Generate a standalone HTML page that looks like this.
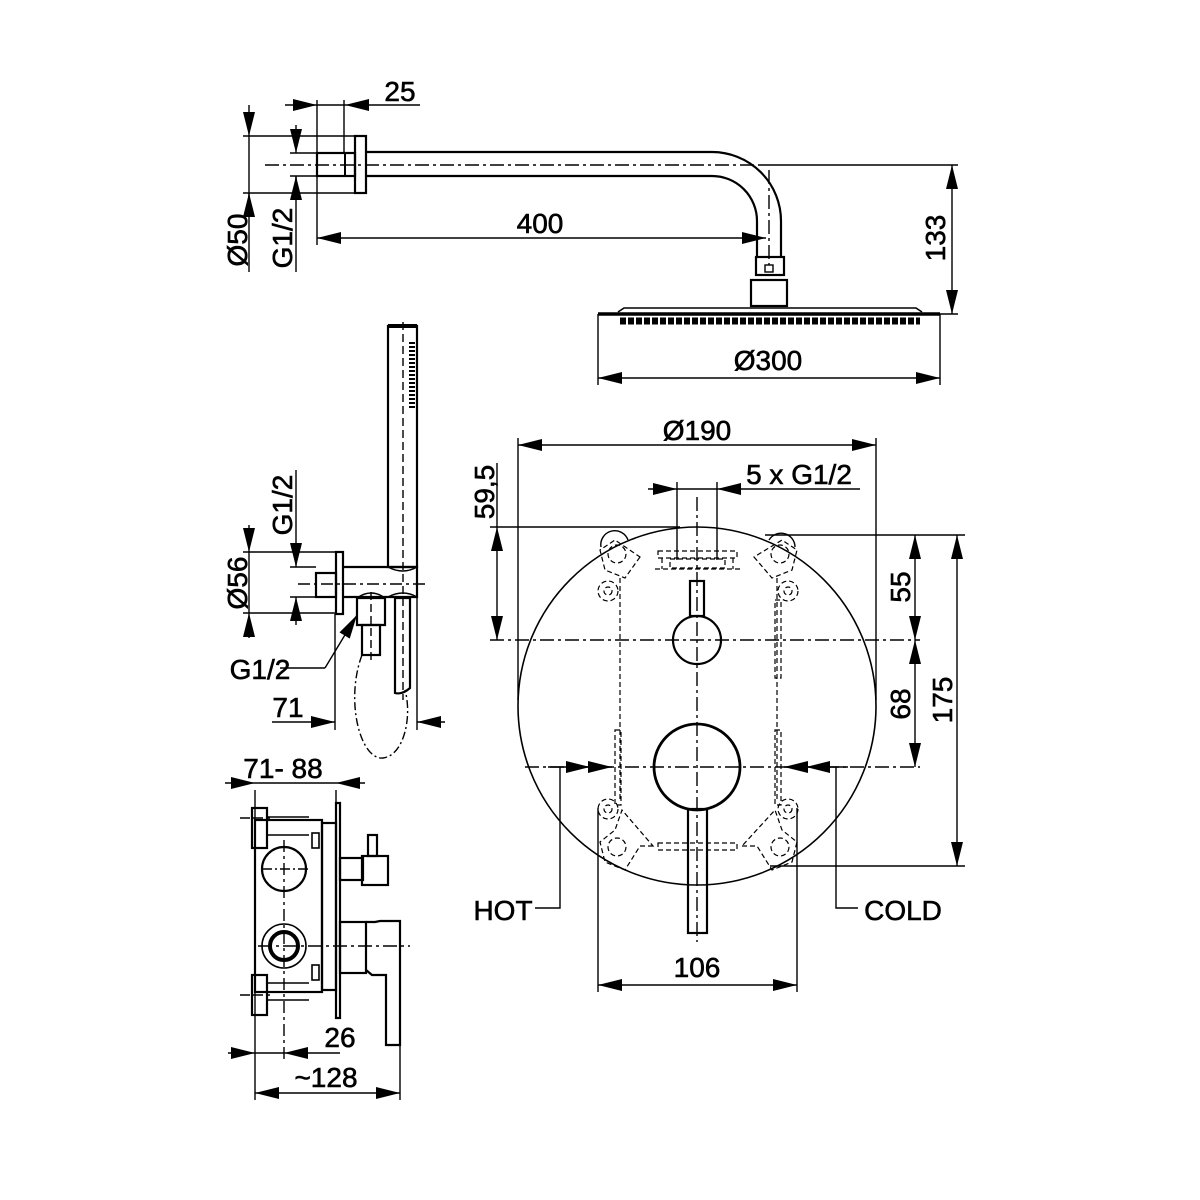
<!DOCTYPE html>
<html><head><meta charset="utf-8"><style>
html,body{margin:0;padding:0;background:#fff}
svg{display:block}
text{font-family:"Liberation Sans",Arial,sans-serif;font-size:28px;fill:#000;stroke:#000;stroke-width:0.6}
</style></head><body>
<svg width="1200" height="1200" viewBox="0 0 1200 1200" xmlns="http://www.w3.org/2000/svg">
<defs>
<marker id="a" viewBox="0 0 24 12" refX="24" refY="6" markerWidth="24" markerHeight="12" markerUnits="userSpaceOnUse" orient="auto-start-reverse"><path d="M0,0L24,6L0,12z" fill="#000"/></marker>
</defs>
<g fill="none" stroke="#000" stroke-width="1.4">
<!-- ===== Top shower arm ===== -->
<line x1="265" y1="165" x2="760" y2="165" stroke-dasharray="14,4,3,4"/>
<path d="M769 170 V265" stroke-dasharray="14,4,3,4"/>
<rect x="355" y="136" width="11" height="57" stroke-width="2.2"/>
<rect x="317" y="153" width="38" height="23" stroke-width="2.2"/>
<line x1="345" y1="153" x2="345" y2="176" stroke-width="2"/>
<path d="M366 152 H712 A69 69 0 0 1 781 221 V257" stroke-width="2.2"/>
<path d="M366 176 H712 A45 45 0 0 1 757 221 V257" stroke-width="2.2"/>
<rect x="756" y="257" width="28" height="18" stroke-width="2.2"/>
<rect x="765" y="265" width="8" height="7"/>
<rect x="751" y="280" width="36" height="26" stroke-width="2.2"/>
<path d="M598 314 H940" stroke-width="3.5"/>
<path d="M618 312 L624 308 H916 L922 312" stroke-width="1.6"/>
<line x1="620" y1="321" x2="920" y2="321" stroke-width="7" stroke-dasharray="6,2"/>
<!-- dims top -->
<line x1="285" y1="105" x2="317" y2="105" marker-end="url(#a)"/>
<line x1="317" y1="105" x2="345" y2="105"/>
<line x1="420" y1="105" x2="345" y2="105" marker-end="url(#a)"/>
<line x1="317" y1="100" x2="317" y2="245"/>
<line x1="344" y1="100" x2="344" y2="153"/>
<line x1="243" y1="136" x2="355" y2="136"/>
<line x1="243" y1="193" x2="355" y2="193"/>
<line x1="249" y1="105" x2="249" y2="136" marker-end="url(#a)"/>
<line x1="249" y1="215" x2="249" y2="193" marker-end="url(#a)"/>
<line x1="249" y1="136" x2="249" y2="272"/>
<line x1="290" y1="153" x2="317" y2="153"/>
<line x1="290" y1="176" x2="317" y2="176"/>
<line x1="296" y1="125" x2="296" y2="153" marker-end="url(#a)"/>
<line x1="296" y1="200" x2="296" y2="176" marker-end="url(#a)"/>
<line x1="296" y1="176" x2="296" y2="272"/>
<line x1="317" y1="238" x2="766" y2="238" marker-start="url(#a)" marker-end="url(#a)"/>
<line x1="760" y1="165" x2="958" y2="165"/>
<line x1="930" y1="314" x2="958" y2="314"/>
<line x1="952" y1="165" x2="952" y2="314" marker-start="url(#a)" marker-end="url(#a)"/>
<line x1="598" y1="314" x2="598" y2="385"/>
<line x1="940" y1="314" x2="940" y2="385"/>
<line x1="598" y1="378" x2="940" y2="378" marker-start="url(#a)" marker-end="url(#a)"/>

<!-- ===== Hand shower ===== -->
<rect x="388" y="326" width="29" height="241" stroke-width="2.2"/>
<line x1="388" y1="326" x2="417" y2="326" stroke-width="4"/>
<line x1="403" y1="322" x2="403" y2="700" stroke-dasharray="8,4"/>
<line x1="412" y1="342" x2="412" y2="408" stroke-width="6" stroke-dasharray="2,2"/>
<rect x="336" y="552" width="7" height="62" stroke-width="2.2"/>
<rect x="316" y="573" width="20" height="24" stroke-width="2.2"/>
<path d="M343 567 H417 V597 H343" stroke-width="2.2"/>
<path d="M388 567 Q403 575 417 567 M388 597 Q403 589 417 597" stroke-width="1.5"/>
<line x1="298" y1="584" x2="425" y2="584" stroke-dasharray="12,4,3,4"/>
<path d="M357 598 H385 V625 H357 Z" stroke-width="2.2"/>
<path d="M357 598 Q371 588 385 598" stroke-width="1.5"/>
<rect x="362" y="625" width="18" height="30" stroke-width="2.2"/>
<line x1="371" y1="592" x2="371" y2="660" stroke-dasharray="8,4"/>
<path d="M395 598 H410 V688 Q402 695 395 693 Z" stroke-width="2.2"/>
<path d="M362 655 C345 700 360 760 383 758 C405 755 412 715 405 690" stroke-dasharray="8,3,2,3"/>
<line x1="280" y1="668" x2="325" y2="668"/>
<line x1="325" y1="668" x2="357" y2="615" marker-end="url(#a)"/>
<line x1="243" y1="552" x2="336" y2="552"/>
<line x1="243" y1="613" x2="336" y2="613"/>
<line x1="249" y1="525" x2="249" y2="552" marker-end="url(#a)"/>
<line x1="249" y1="638" x2="249" y2="613" marker-end="url(#a)"/>
<line x1="249" y1="552" x2="249" y2="613"/>
<line x1="290" y1="567" x2="316" y2="567"/>
<line x1="290" y1="597" x2="316" y2="597"/>
<line x1="296" y1="470" x2="296" y2="567" marker-end="url(#a)"/>
<line x1="296" y1="625" x2="296" y2="597" marker-end="url(#a)"/>
<line x1="335" y1="614" x2="335" y2="730"/>
<line x1="417" y1="597" x2="417" y2="730"/>
<line x1="272" y1="722" x2="335" y2="722" marker-end="url(#a)"/>
<line x1="445" y1="722" x2="417" y2="722" marker-end="url(#a)"/>

<!-- ===== Valve side view ===== -->
<line x1="225" y1="783" x2="255" y2="783" marker-end="url(#a)"/>
<line x1="255" y1="783" x2="336" y2="783"/>
<line x1="365" y1="783" x2="336" y2="783" marker-end="url(#a)"/>
<line x1="255" y1="790" x2="255" y2="1100"/>
<line x1="336" y1="790" x2="336" y2="803"/>
<rect x="255" y="820" width="67" height="172" stroke-width="2.2"/>
<rect x="322" y="823" width="14" height="167" stroke-width="2.2"/>
<rect x="336" y="803" width="4" height="215" stroke-width="2.2"/>
<rect x="252" y="808" width="15" height="40" stroke-width="2.2"/>
<rect x="252" y="975" width="15" height="40" stroke-width="2.2"/>
<path d="M267 817 H309 M267 835 H309" stroke-width="1.6"/>
<path d="M267 983 H309 M267 1000 H309" stroke-width="1.6"/>
<rect x="312" y="833" width="7" height="15" stroke-width="1.6"/>
<rect x="312" y="965" width="7" height="15" stroke-width="1.6"/>
<line x1="240" y1="818" x2="270" y2="818" stroke-dasharray="10,3"/>
<line x1="240" y1="995" x2="270" y2="995" stroke-dasharray="10,3"/>
<circle cx="284" cy="869" r="22" stroke-width="2.2"/>
<circle cx="284" cy="946" r="22" stroke-width="1.6"/>
<circle cx="284" cy="946" r="14" stroke-width="4"/>
<line x1="284" y1="840" x2="284" y2="1060" stroke-dasharray="12,4,3,4"/>
<line x1="262" y1="869" x2="310" y2="869" stroke-dasharray="10,3,2,3"/>
<line x1="258" y1="946" x2="410" y2="946" stroke-dasharray="14,4,3,4"/>
<rect x="340" y="858" width="23" height="22" stroke-width="2.2"/>
<rect x="362" y="856" width="26" height="29" stroke-width="2.2"/>
<rect x="368" y="835" width="9" height="21" stroke-width="2.2"/>
<rect x="340" y="922" width="26" height="51" stroke-width="2.2"/>
<path d="M366 922 L375 922 L380 921 H400 V1045 H386 V975 H372 L366 970" stroke-width="2.2"/>
<line x1="400" y1="1045" x2="400" y2="1100"/>
<line x1="228" y1="1053" x2="255" y2="1053" marker-end="url(#a)"/>
<line x1="255" y1="1053" x2="284" y2="1053"/>
<line x1="340" y1="1053" x2="284" y2="1053" marker-end="url(#a)"/>
<line x1="255" y1="1093" x2="400" y2="1093" marker-start="url(#a)" marker-end="url(#a)"/>

<!-- ===== Front view ===== -->
<circle cx="697" cy="706" r="179" stroke-width="1.6"/>
<line x1="697" y1="497" x2="697" y2="942" stroke-dasharray="14,4,3,4"/>
<line x1="490" y1="640" x2="920" y2="640" stroke-dasharray="14,4,3,4"/>
<line x1="525" y1="767" x2="920" y2="767" stroke-dasharray="14,4,3,4"/>
<circle cx="697" cy="640" r="24" stroke-width="2.2"/>
<rect x="690" y="581" width="14" height="35" stroke-width="2.2"/>
<circle cx="697" cy="767" r="43" stroke-width="2.8"/>
<rect x="688" y="809" width="19" height="124" stroke-width="2.2"/>
<g stroke-dasharray="5,3" stroke-width="1.2">
<path d="M620 578 V800 M777 578 V800"/>
<rect x="658" y="551" width="79" height="7"/>
<rect x="670" y="559" width="55" height="9"/>
<path d="M655 569 H740 M662 558 V569 M733 558 V569"/>
<rect x="658" y="843" width="79" height="7"/>
<path d="M640 557 L625 578 L605 570 L600 550 L615 540 Z M653 846 L640 846 L625 870 L605 862 L600 842 L615 830 L622 810 Z"/>
<path d="M754 557 L772 578 L792 570 L797 550 L782 540 Z M742 846 L757 846 L772 870 L792 862 L797 842 L782 830 L775 810 Z"/>
<circle cx="617" cy="554" r="9"/><circle cx="780" cy="554" r="9"/>
<circle cx="617" cy="847" r="9"/><circle cx="780" cy="847" r="9"/>
<circle cx="608" cy="591" r="10"/><circle cx="608" cy="591" r="4"/>
<circle cx="788" cy="591" r="10"/><circle cx="788" cy="591" r="4"/>
<circle cx="608" cy="809" r="10"/><circle cx="608" cy="809" r="4"/>
<circle cx="788" cy="809" r="10"/><circle cx="788" cy="809" r="4"/>
<path d="M615 730 H621 V805 H615 Z M775 730 H781 V805 H775 Z M775 600 H781 V678 H775 Z"/>
</g>
<path d="M601 547 A14 14 0 0 1 628 540 M769 540 A14 14 0 0 1 795 547" stroke-width="1.4"/>
<!-- front dims -->
<line x1="518" y1="445" x2="876" y2="445" marker-start="url(#a)" marker-end="url(#a)"/>
<line x1="518" y1="438" x2="518" y2="700"/>
<line x1="876" y1="438" x2="876" y2="700"/>
<line x1="648" y1="489" x2="677" y2="489" marker-end="url(#a)"/>
<line x1="677" y1="489" x2="717" y2="489"/>
<line x1="860" y1="489" x2="717" y2="489" marker-end="url(#a)"/>
<line x1="677" y1="482" x2="677" y2="560"/>
<line x1="717" y1="482" x2="717" y2="560"/>
<line x1="490" y1="527" x2="680" y2="527"/>
<line x1="497" y1="527" x2="497" y2="640" marker-start="url(#a)" marker-end="url(#a)"/>
<line x1="497" y1="463" x2="497" y2="527"/>
<line x1="765" y1="535" x2="965" y2="535"/>
<line x1="915" y1="535" x2="915" y2="640" marker-start="url(#a)" marker-end="url(#a)"/>
<line x1="915" y1="640" x2="915" y2="767" marker-start="url(#a)" marker-end="url(#a)"/>
<line x1="957" y1="535" x2="957" y2="866" marker-start="url(#a)" marker-end="url(#a)"/>
<line x1="770" y1="866" x2="965" y2="866"/>
<line x1="548" y1="767" x2="590" y2="767" marker-end="url(#a)"/>
<line x1="590" y1="767" x2="612" y2="767" marker-end="url(#a)"/>
<line x1="848" y1="767" x2="806" y2="767" marker-end="url(#a)"/>
<line x1="806" y1="767" x2="784" y2="767" marker-end="url(#a)"/>
<path d="M560 767 V908 H535"/>
<path d="M836 767 V908 H858"/>
<line x1="598" y1="808" x2="598" y2="992"/>
<line x1="797" y1="808" x2="797" y2="992"/>
<line x1="598" y1="985" x2="797" y2="985" marker-start="url(#a)" marker-end="url(#a)"/>
</g>
<!-- Text -->
<text x="400" y="101" text-anchor="middle">25</text>
<text x="540" y="233" text-anchor="middle">400</text>
<text x="768" y="370" text-anchor="middle">Ø300</text>
<text transform="translate(945,238) rotate(-90)" text-anchor="middle">133</text>
<text transform="translate(247,240) rotate(-90)" text-anchor="middle">Ø50</text>
<text transform="translate(292,238) rotate(-90)" text-anchor="middle">G1/2</text>
<text transform="translate(292,505) rotate(-90)" text-anchor="middle">G1/2</text>
<text transform="translate(247,583) rotate(-90)" text-anchor="middle">Ø56</text>
<text x="260" y="679" text-anchor="middle">G1/2</text>
<text x="288" y="717" text-anchor="middle">71</text>
<text x="283" y="778" text-anchor="middle">71- 88</text>
<text x="340" y="1047" text-anchor="middle">26</text>
<text x="326" y="1087" text-anchor="middle">~128</text>
<text x="697" y="440" text-anchor="middle">Ø190</text>
<text x="799" y="484" text-anchor="middle">5 x G1/2</text>
<text transform="translate(494,492) rotate(-90)" text-anchor="middle">59,5</text>
<text transform="translate(910,587) rotate(-90)" text-anchor="middle">55</text>
<text transform="translate(910,704) rotate(-90)" text-anchor="middle">68</text>
<text transform="translate(952,700) rotate(-90)" text-anchor="middle">175</text>
<text x="503" y="920" text-anchor="middle">HOT</text>
<text x="903" y="920" text-anchor="middle">COLD</text>
<text x="697" y="977" text-anchor="middle">106</text>
</svg>
</body></html>
